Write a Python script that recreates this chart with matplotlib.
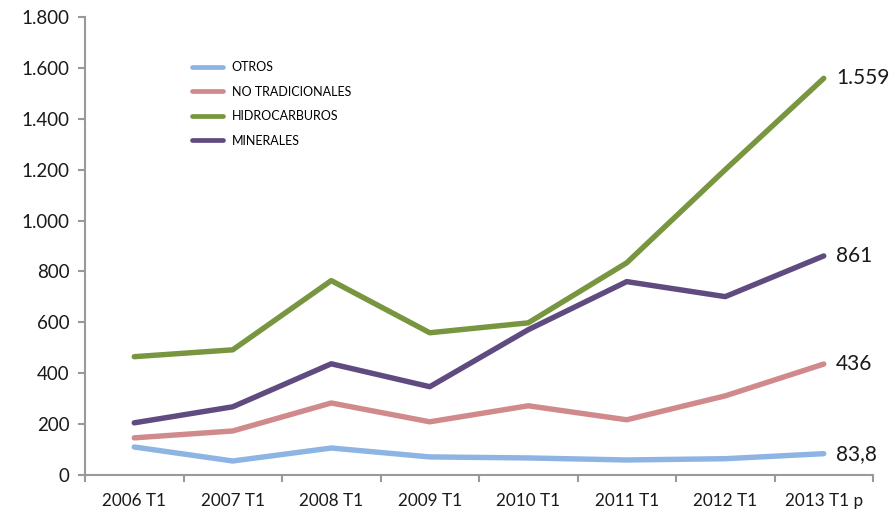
import matplotlib.pyplot as plt
import numpy as np
from matplotlib.ticker import FuncFormatter, FixedLocator

periods = ["2006 T1", "2007 T1", "2008 T1", "2009 T1", "2010 T1", "2011 T1", "2012 T1", "2013 T1 p"]
otros = [110, 55, 106, 71, 67, 59, 64, 83.8]
no_tradicionales = [146, 173, 283, 209, 272, 217, 311, 436]
hidrocarburos = [465, 492, 764, 559, 598, 834, 1200, 1559]
minerales = [205, 268, 437, 347, 571, 760, 701, 861]
end_labels = ["83,8", "436", "1.559", "861"]

plt.rcParams["font.family"] = ["Lato", "DejaVu Sans"]

fig = plt.figure(figsize=(8.91, 5.14), dpi=100)
ax = fig.add_axes([0.0954, 0.0759, 0.8844, 0.891])

x = np.arange(len(periods))
series = [
    ("OTROS", otros, "#8EB4E3"),
    ("NO TRADICIONALES", no_tradicionales, "#D08A8C"),
    ("HIDROCARBUROS", hidrocarburos, "#77963F"),
    ("MINERALES", minerales, "#5F4B7F"),
]
for (name, vals, color), lab in zip(series, end_labels):
    ax.plot(x, vals, color=color, linewidth=3.9, solid_capstyle="round", label=name)
    ax.annotate(lab, xy=(x[-1], vals[-1]), xytext=(9, 0), textcoords="offset points",
                va="center", ha="left", fontsize=15, color="#1a1a1a")

ax.set_xlim(-0.5, len(periods) - 0.5)
ax.set_ylim(0, 1800)
ax.set_yticks(np.arange(0, 1801, 200))
ax.yaxis.set_major_formatter(FuncFormatter(lambda v, _: f"{int(v):,}".replace(",", ".")))

# category ticks between the groups, labels centred under each point
ax.xaxis.set_major_locator(FixedLocator(np.arange(-0.5, len(periods), 1.0)))
ax.xaxis.set_major_formatter(FuncFormatter(lambda v, _: ""))
ax.set_xticks(x, minor=True)
ax.set_xticklabels(periods, minor=True)
ax.tick_params(axis="x", which="minor", length=0, labelsize=12.3, pad=13, colors="#1a1a1a")
ax.tick_params(axis="x", which="major", length=5, width=1.5, color="#999999")
ax.tick_params(axis="y", length=5, width=1.5, color="#999999", labelsize=13.5,
               labelcolor="#1a1a1a", pad=6)

for s in ("top", "right"):
    ax.spines[s].set_visible(False)
for s in ("left", "bottom"):
    ax.spines[s].set_color("#999999")
    ax.spines[s].set_linewidth(1.5)

leg = ax.legend(loc="upper left", bbox_to_anchor=(0.121, 0.928), frameon=False,
                fontsize=9, handlelength=2.55, labelspacing=1.0, handletextpad=0.65)
for line in leg.get_lines():
    line.set_linewidth(3.4)

fig.savefig("out.png", dpi=100)
